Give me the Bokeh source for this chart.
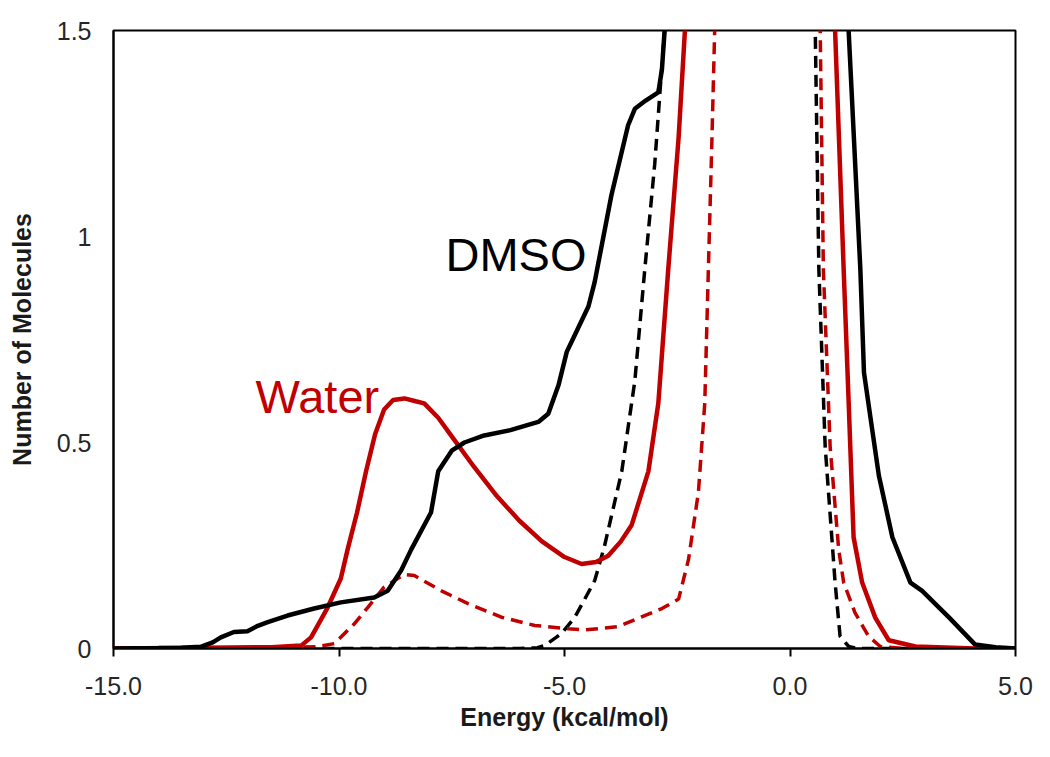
from bokeh.plotting import figure
from bokeh.models import Range1d, FixedTicker, NumeralTickFormatter, Label
from bokeh.embed import file_html
from bokeh.resources import INLINE

# DMSO solid (black)
dmso_x = [-15.0, -14.0, -13.5, -13.07, -12.8, -12.62, -12.33, -12.03, -11.8, -11.58, -11.14,
          -10.55, -9.96, -9.22, -8.92, -8.62, -8.4, -7.96, -7.8, -7.5, -7.22, -6.78, -6.2,
          -5.58, -5.36, -5.13, -4.95, -4.84, -4.47, -4.33, -3.96, -3.59, -3.44, -3.2, -2.92,
          -2.84, -2.78, -0.8, 1.30, 1.56, 1.64, 1.97, 2.27, 2.67, 2.93, 3.53, 4.1, 4.56, 5.0]
dmso_y = [0.0, 0.001, 0.002, 0.004, 0.015, 0.027, 0.04, 0.042, 0.055, 0.064, 0.08,
          0.097, 0.112, 0.124, 0.14, 0.19, 0.24, 0.33, 0.43, 0.48, 0.50, 0.517, 0.53,
          0.55, 0.57, 0.64, 0.72, 0.745, 0.83, 0.89, 1.10, 1.27, 1.31, 1.33, 1.35,
          1.405, 1.5, 6.0, 1.5, 0.92, 0.67, 0.42, 0.27, 0.16, 0.14, 0.075, 0.01, 0.003, 0.0]

# Water solid (red)
water_x = [-15.0, -13.0, -11.5, -10.84, -10.62, -10.4, -10.25, -9.96, -9.81, -9.6, -9.4,
           -9.2, -9.0, -8.8, -8.55, -8.3, -8.11, -7.8, -7.5, -7.0, -6.5, -6.0, -5.5, -5.0,
           -4.62, -4.3, -4.03, -3.75, -3.51, -3.14, -2.92, -2.70, -2.47, -2.33, -0.7,
           1.0, 1.19, 1.30, 1.41, 1.6, 1.89, 2.19, 2.78, 4.1, 5.0]
water_y = [0.0, 0.002, 0.003, 0.007, 0.027, 0.07, 0.10, 0.17, 0.24, 0.33, 0.43,
           0.52, 0.58, 0.603, 0.607, 0.60, 0.595, 0.56, 0.515, 0.44, 0.37, 0.31, 0.26, 0.222,
           0.205, 0.21, 0.225, 0.26, 0.30, 0.43, 0.595, 0.92, 1.24, 1.5, 6.0,
           1.5, 0.92, 0.6, 0.27, 0.16, 0.075, 0.02, 0.005, 0.0, 0.0]

# Water dashed (red)
water_d_x = [-15.0, -12.0, -10.5, -10.1, -9.66, -9.36, -9.0, -8.55, -8.33, -7.73, -7.14,
             -6.4, -5.66, -4.92, -4.55, -3.81, -2.84, -2.47, -2.25, -2.03, -1.89, -1.81,
             -1.73, -1.67, -0.5, 0.67, 0.74, 0.89, 1.08, 1.19, 1.44, 1.74, 2.0, 2.5, 5.0]
water_d_y = [0.0, 0.001, 0.004, 0.012, 0.06, 0.10, 0.149, 0.18, 0.177, 0.14, 0.109,
             0.076, 0.056, 0.048, 0.045, 0.053, 0.097, 0.12, 0.216, 0.38, 0.595, 0.92,
             1.24, 1.5, 6.0, 1.5, 0.92, 0.49, 0.24, 0.16, 0.087, 0.03, 0.005, 0.0, 0.0]

# DMSO dashed (black)
dmso_d_x = [-15.0, -6.0, -5.6, -5.44, -5.07, -4.77, -4.55, -4.33, -4.11, -3.73, -3.44,
            -3.22, -3.0, -2.85, -2.78, -1.1, 0.56, 0.64, 0.78, 1.0, 1.11, 1.3, 1.5, 5.0]
dmso_d_y = [0.0, 0.0, 0.002, 0.007, 0.036, 0.076, 0.12, 0.165, 0.25, 0.43, 0.65,
            0.92, 1.175, 1.4, 1.5, 6.0, 1.5, 0.92, 0.49, 0.16, 0.03, 0.005, 0.0, 0.0]

x_ticks = [-15, -10, -5, 0, 5]
y_ticks = [0, 0.5, 1, 1.5]
y_tick_labels = {0: "0", 0.5: "0.5", 1: "1", 1.5: "1.5"}

RED = "#c00000"
FONT = "Liberation Sans"

p = figure(width=1042, height=749, output_backend="svg", toolbar_location=None,
           x_range=Range1d(-15, 5), y_range=Range1d(0, 1.5),
           min_border_left=113, min_border_right=27, min_border_top=30, min_border_bottom=101)

p.background_fill_color = "white"
p.border_fill_color = "white"
p.outline_line_color = "black"
p.outline_line_width = 2
p.xgrid.visible = False
p.ygrid.visible = False

p.line(dmso_d_x, dmso_d_y, line_color="black", line_width=3.5, line_dash="12 7")
p.line(water_d_x, water_d_y, line_color=RED, line_width=3.5, line_dash="12 7")
p.line(water_x, water_y, line_color=RED, line_width=4.5)
p.line(dmso_x, dmso_y, line_color="black", line_width=4.5)

xa = p.xaxis[0]
xa.ticker = FixedTicker(ticks=x_ticks)
xa.formatter = NumeralTickFormatter(format="0.0")
xa.axis_line_color = "black"
xa.axis_line_width = 2
xa.major_tick_line_width = 2
xa.major_tick_out = 8
xa.major_tick_in = 0
xa.minor_tick_out = 0
xa.minor_tick_in = 0
xa.major_label_standoff = 20
xa.major_label_text_font = FONT
xa.major_label_text_font_size = "25px"
xa.major_label_text_color = "#262626"
xa.axis_label = "Energy (kcal/mol)"
xa.axis_label_text_font = FONT
xa.axis_label_text_font_style = "bold"
xa.axis_label_text_font_size = "25px"
xa.axis_label_text_color = "#1a1a1a"
xa.axis_label_standoff = 5

ya = p.yaxis[0]
ya.ticker = FixedTicker(ticks=y_ticks)
ya.major_label_overrides = y_tick_labels
ya.axis_line_color = "black"
ya.axis_line_width = 2
ya.major_tick_out = 0
ya.major_tick_in = 0
ya.minor_tick_out = 0
ya.minor_tick_in = 0
ya.major_label_standoff = 22
ya.major_label_text_font = FONT
ya.major_label_text_font_size = "25px"
ya.major_label_text_color = "#262626"
ya.axis_label = "Number of Molecules"
ya.axis_label_text_font = FONT
ya.axis_label_text_font_style = "bold"
ya.axis_label_text_font_size = "25px"
ya.axis_label_text_color = "#1a1a1a"
ya.axis_label_standoff = 18

p.add_layout(Label(x=-7.64, y=0.956, text="DMSO", text_font=FONT, text_font_size="47px",
                   text_color="black", text_baseline="alphabetic"))
p.add_layout(Label(x=-11.85, y=0.612, text="Water", text_font=FONT, text_font_size="47px",
                   text_color=RED, text_baseline="alphabetic"))

open("out.html", "w").write(file_html(p, INLINE))
